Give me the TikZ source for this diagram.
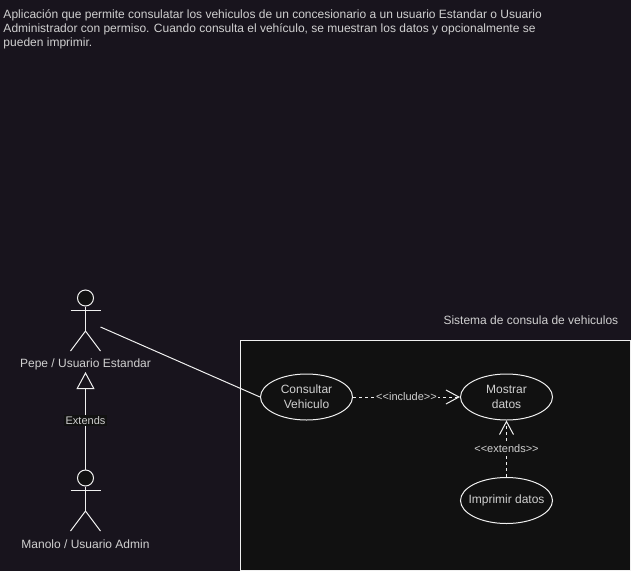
\documentclass[tikz,border=0pt]{standalone}
\usepackage{fontspec}
\setmainfont{Liberation Sans}
\usetikzlibrary{arrows.meta,shapes.geometric}

\definecolor{fondo}{HTML}{18141D}
\definecolor{caja}{HTML}{111111}
\definecolor{trazo}{HTML}{F0F0F0}
\definecolor{letra}{HTML}{D0D0D0}

\tikzstyle{usecase} = [draw=trazo, ellipse, align=center, text=letra, inner sep=0pt, inner xsep=-5pt, minimum width=69pt, minimum height=34.5pt, font=\fontsize{9}{11.2}\selectfont]
\tikzstyle{rotulo} = [text=letra, font=\fontsize{9}{11}\selectfont]
\tikzstyle{etiqueta} = [fill=caja, text=letra, inner sep=1pt, font=\fontsize{8.25}{10}\selectfont]
\tikzstyle{relacion} = [draw=trazo, dash pattern=on 2.25pt off 2.25pt, -{Straight Barb[length=9.75pt,width=10.5pt,trazo]}]

\tikzset{
  actor/.pic={
    \node [circle, draw=trazo, fill=caja, minimum size=12pt, inner sep=0pt] (-head) at (0,-23) {};
    \coordinate (-arm) at (15,6);
    \draw (-head.south) -- (0,10);
    \draw (-15,-11) -- (15,-11);
    \draw (-15,30) -- (0,10) -- (15,30);
  }
}

\begin{document}
\begin{tikzpicture}[x=0.75pt,y=-0.75pt,>=latex,draw=trazo,line width=0.75pt]
            %
            % Fondo y caja del sistema
            \fill [fondo] (0,0) rectangle (631,571);
            \useasboundingbox (0,0) rectangle (631,571);
            \draw [fill=caja] (240.5,340.5) rectangle (630.5,570);
            \node [rotulo, anchor=west, inner sep=0pt] (titulo) at (443,320) {Sistema de consula de vehiculos};
            \node [rotulo, anchor=north west, align=left, inner sep=0pt] (descripcion) at (3,9.5) {Aplicación que permite consulatar los vehiculos de un concesionario a un usuario Estandar o Usuario\\[-0.5pt]Administrador con permiso. Cuando consulta el vehículo, se muestran los datos y opcionalmente se\\[-0.5pt]pueden imprimir.};
            %
            % Actores
            \pic (pepe) at (85.5,321) {actor};
            \node [rotulo] (pepelabel) at (85.5,364) {Pepe / Usuario Estandar};
            \pic (manolo) at (85.5,501) {actor};
            \node [rotulo] (manololabel) at (85.5,544) {Manolo / Usuario Admin};
            %
            % Casos de uso
            \node [usecase] (consultar) at (306.5,397) {Consultar\\Vehiculo};
            \node [usecase] (mostrar) at (506.5,397) {Mostrar\\datos};
            \node [usecase] (imprimir) at (506.5,500.5) {Imprimir datos};
            %
            % Conexiones
            \draw (pepe-arm) -- (consultar.west);
            \coordinate (puntabase) at (85.5,372);
            \draw [-{Triangle[open,length=12.75pt,width=13.5pt,trazo]}] (manolo-head.north) -- node [etiqueta, pos=0.5] (extends) {Extends} (puntabase);
            \draw [relacion] (consultar) -- node [etiqueta] (include) {<{}<include>{}>} (mostrar);
            \draw [relacion] (imprimir) -- node [etiqueta, pos=0.5] (ext) {<{}<extends>{}>} (mostrar);
            %
        \end{tikzpicture}
\end{document}
